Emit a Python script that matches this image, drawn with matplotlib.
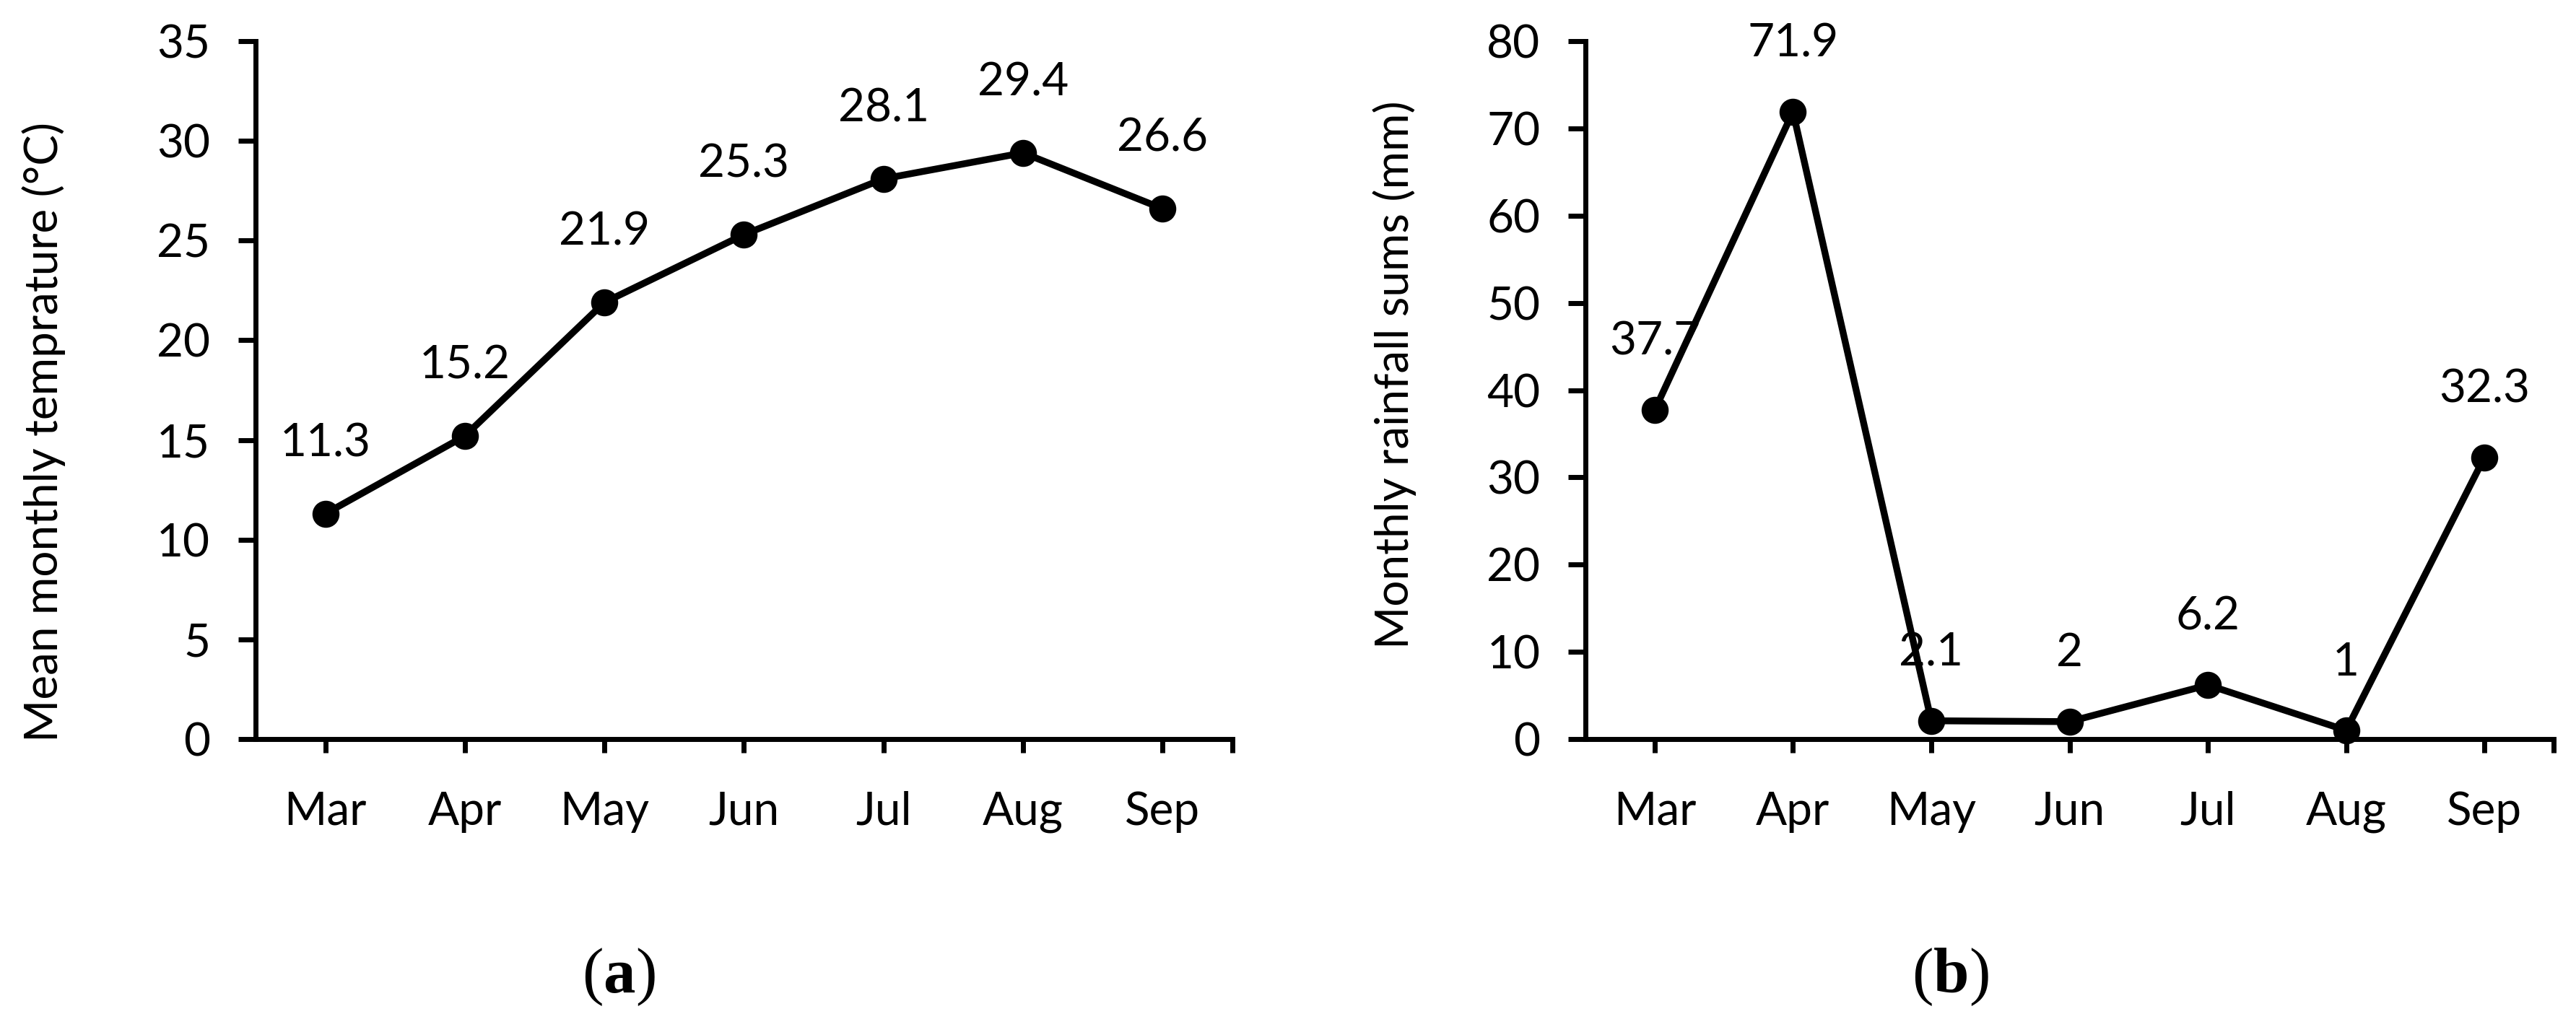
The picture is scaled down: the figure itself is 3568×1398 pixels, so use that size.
import numpy as np
import matplotlib
matplotlib.use("Agg")
import matplotlib.pyplot as plt

# Data
# ----
months = ["Mar", "Apr", "May", "Jun", "Jul", "Aug", "Sep"]
temp = [11.3, 15.2, 21.9, 25.3, 28.1, 29.4, 26.6]
rain = [37.7, 71.9, 2.1, 2, 6.2, 1, 32.3]
rain_labels = ["37.7", "71.9", "2.1", "2", "6.2", "1", "32.3"]

plt.rcParams["font.family"] = ["Lato", "DejaVu Sans"]
plt.rcParams["mathtext.fontset"] = "custom"
plt.rcParams["mathtext.rm"] = "Liberation Serif"
plt.rcParams["mathtext.bf"] = "Liberation Serif:bold"

fs = 23
line_config = {
    "color": "black",
    "linewidth": 3.4,
    "marker": "o",
    "markersize": 12.5,
    "solid_joinstyle": "round",
    "clip_on": False,
}


def style_axis(ax, ymax, ystep):
    x = np.arange(len(months))
    ax.set_xlim(-0.5, len(months) - 0.5)
    ax.set_ylim(0, ymax)
    ax.set_xticks(x)
    ax.set_xticklabels(months)
    ax.set_xticks([len(months) - 0.5], minor=True)
    ax.set_yticks(np.arange(0, ymax + 0.1, ystep))
    for s in ["top", "right"]:
        ax.spines[s].set_visible(False)
    for s in ["left", "bottom"]:
        ax.spines[s].set_linewidth(2.5)
    ax.tick_params(axis="y", which="major", length=8.6, width=2.5,
                   labelsize=fs, pad=14)
    ax.tick_params(axis="x", which="both", length=6.8, width=2.5,
                   labelsize=fs, pad=19)


fig = plt.figure(figsize=(17.84, 6.99), dpi=200)

# Panel (a): temperature
# ----------------------
ax1 = fig.add_axes([0.0992, 0.2675, 0.3792, 0.6917])
x = np.arange(len(months))
ax1.plot(x, temp, **line_config)
for xi, v in zip(x, temp):
    ax1.annotate(f"{v}", (xi, v), xytext=(0, 35), textcoords="offset points",
                 ha="center", va="center", fontsize=fs)
style_axis(ax1, 35, 5)
ax1.set_ylabel("Mean monthly temprature (°C)", fontsize=fs)
ax1.yaxis.set_label_coords(-0.194, 0.44)

# Panel (b): rainfall
# -------------------
ax2 = fig.add_axes([0.6155, 0.2675, 0.3758, 0.6917])
ax2.plot(x, rain, **line_config)
for xi, v, t in zip(x, rain, rain_labels):
    ax2.annotate(t, (xi, v), xytext=(0, 34), textcoords="offset points",
                 ha="center", va="center", fontsize=fs)
style_axis(ax2, 80, 10)
ax2.set_ylabel("Monthly rainfall sums (mm)", fontsize=fs)
ax2.yaxis.set_label_coords(-0.1745, 0.522)

# Captions
# --------
fig.text(0.2402, 0.032, r"$\mathrm{(}\mathbf{a}\mathrm{)}$",
         ha="center", va="center", fontsize=32)
fig.text(0.757, 0.032, r"$\mathrm{(}\mathbf{b}\mathrm{)}$",
         ha="center", va="center", fontsize=32)

fig.savefig("out.png", dpi=200)
